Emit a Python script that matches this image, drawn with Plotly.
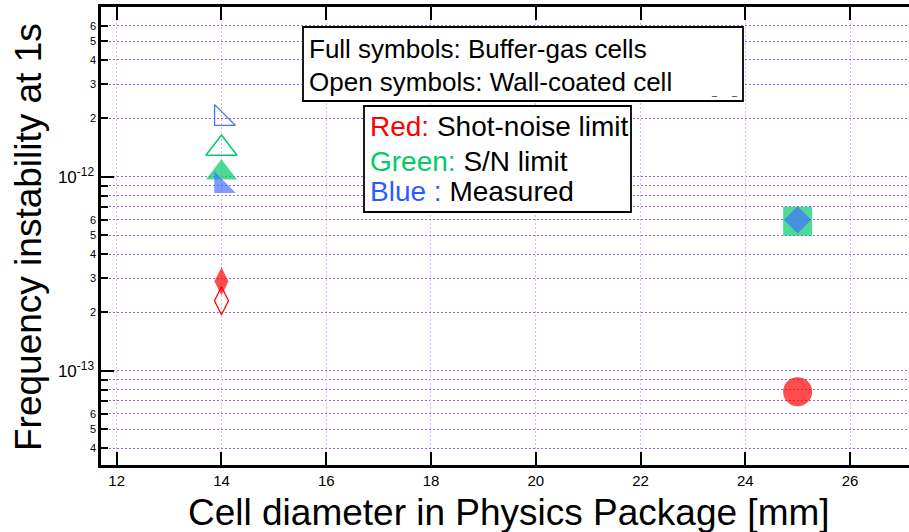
import plotly.graph_objects as go

# ---------------- data ----------------
cell_diameter_mm = [14, 25]
wall_cell_diameter_mm = [14]

shot_noise_buffer = [2.9e-13, 7.8e-14]   # red, full symbols
shot_noise_wall = [2.3e-13]              # red, open symbol
sn_limit_buffer = [1.05e-12, 5.9e-13]    # green, full symbols
sn_limit_wall = [1.4e-12]                # green, open symbol
measured_buffer = [9.0e-13, 6.0e-13]     # blue, full symbols
measured_wall = [2.0e-12]                # blue, open symbol

x_ticks = [12, 14, 16, 18, 20, 22, 24, 26]
y_ticks = [4e-14, 5e-14, 6e-14, 2e-13, 3e-13, 4e-13, 5e-13, 6e-13,
           2e-12, 3e-12, 4e-12, 5e-12, 6e-12]
y_tick_text = ["4", "5", "6", "2", "3", "4", "5", "6", "2", "3", "4", "5", "6"]
y_minor_ticks = [7e-14, 8e-14, 9e-14, 1e-13, 7e-13, 8e-13, 9e-13, 1e-12]
y_major = [1e-13, 1e-12]
y_major_text = ["10<sup>-13</sup>", "10<sup>-12</sup>"]

RED = "#ff0000"
GREEN = "#00cc66"
BLUE = "#4472ff"

W, H = 909, 532
L, R, T, B = 101, 0, 7, 67
PW, PH = W - L - R, H - T - B
FONT = "Liberation Sans, Arial, sans-serif"
Y_RANGE = [-13.485, -11.125]


def px(x):
    return (x - L) / PW


def py(y):
    return (H - B - y) / PH


fig = go.Figure()

# open green triangle (wall-coated)
fig.add_trace(go.Scatter(x=wall_cell_diameter_mm, y=sn_limit_wall, mode="markers",
                         marker=dict(symbol="triangle-up-open", size=27, color=GREEN,
                                     line=dict(width=1.5, color=GREEN)),
                         showlegend=False))
# green full symbols
fig.add_trace(go.Scatter(x=cell_diameter_mm, y=sn_limit_buffer, mode="markers",
                         marker=dict(symbol=["triangle-up", "square"], size=[27, 29], color=GREEN,
                                     line=dict(width=0)),
                         showlegend=False))
# blue full symbols
fig.add_trace(go.Scatter(x=cell_diameter_mm, y=measured_buffer, mode="markers",
                         marker=dict(symbol=["triangle-sw", "diamond"], size=[24, 21], color=BLUE,
                                     line=dict(width=0)),
                         showlegend=False))
# blue open symbol
fig.add_trace(go.Scatter(x=wall_cell_diameter_mm, y=measured_wall, mode="markers",
                         marker=dict(symbol="triangle-sw-open", size=23, color=BLUE,
                                     line=dict(width=1.3, color=BLUE)),
                         showlegend=False))
# red open symbol (on the overlaid axis with identical range)
fig.add_trace(go.Scatter(x=wall_cell_diameter_mm, y=shot_noise_wall, mode="markers", yaxis="y2",
                         marker=dict(symbol="diamond-tall-open", size=20, color=RED,
                                     line=dict(width=1.3, color=RED)),
                         showlegend=False))
# red full symbols
fig.add_trace(go.Scatter(x=cell_diameter_mm, y=shot_noise_buffer, mode="markers", yaxis="y2",
                         marker=dict(symbol=["diamond-tall", "circle"], size=[20, 29], color=RED,
                                     line=dict(width=0)),
                         showlegend=False))

# ---------------- text boxes ----------------
fig.add_shape(type="rect", xref="paper", yref="paper",
              x0=px(303), x1=px(743), y0=py(101), y1=py(27),
              line=dict(color="black", width=1.8), fillcolor="white", layer="above")
fig.add_shape(type="rect", xref="paper", yref="paper",
              x0=px(364), x1=px(631), y0=py(212), y1=py(106),
              line=dict(color="black", width=1.8), fillcolor="white", layer="above")

annots = [
    dict(text="Full symbols: Buffer-gas cells", x=px(307), y=py(49), size=26),
    dict(text="Open symbols: Wall-coated cell", x=px(307), y=py(82), size=26),
    dict(text=f"<span style='color:{RED}'>Red:</span> Shot-noise limit", x=px(368), y=py(127), size=28),
    dict(text=f"<span style='color:{GREEN}'>Green:</span> S/N limit", x=px(368), y=py(161), size=28),
    dict(text=f"<span style='color:#2b5cff'>Blue :</span> Measured", x=px(368), y=py(191), size=28),
]
for a in annots:
    fig.add_annotation(text=a["text"], x=a["x"], y=a["y"], xref="paper", yref="paper",
                       xanchor="left", yanchor="middle", showarrow=False,
                       font=dict(size=a["size"], family=FONT, color="black"))
for ux in (714, 734):
    fig.add_annotation(text="_", x=px(ux), y=py(92), xref="paper", yref="paper",
                       xanchor="center", yanchor="middle", showarrow=False,
                       font=dict(size=9, family=FONT, color="black"))

# axis titles
fig.add_annotation(text="Frequency instability at 1s", x=px(29), y=py(237), xref="paper", yref="paper",
                   textangle=-90, showarrow=False, xanchor="center", yanchor="middle",
                   font=dict(size=37, family=FONT, color="black"))
fig.add_annotation(text="Cell diameter in Physics Package [mm]",
                   x=px(509), y=py(512),
                   xref="paper", yref="paper", showarrow=False, xanchor="center", yanchor="middle",
                   font=dict(size=37, family=FONT, color="black"))

fig.update_layout(
    width=W, height=H,
    margin=dict(l=L, r=R, t=T, b=B, pad=0),
    paper_bgcolor="white", plot_bgcolor="white",
    showlegend=False,
    font=dict(family=FONT, color="black"),
    xaxis=dict(range=[11.70, 27.126], tickmode="array", tickvals=x_ticks,
               ticks="inside", ticklen=13, tickwidth=2, tickcolor="black",
               showline=True, linewidth=2.5, linecolor="black", mirror="ticks",
               showgrid=True, gridcolor="#d2b8fb", gridwidth=1, griddash="2px,2px",
               zeroline=False,
               tickfont=dict(size=15, family=FONT)),
    yaxis=dict(type="log", range=Y_RANGE, tickmode="array",
               tickvals=y_ticks, ticktext=y_tick_text,
               ticks="inside", ticklen=7, tickwidth=2, tickcolor="black",
               showline=True, linewidth=2.5, linecolor="black", mirror=False,
               showgrid=True, gridcolor="#9b5ee8", gridwidth=1, griddash="2px,2px",
               zeroline=False, tickfont=dict(size=11, family=FONT),
               minor=dict(tickmode="array", tickvals=y_minor_ticks, ticks="inside", ticklen=7,
                          tickwidth=2, tickcolor="black", showgrid=True, gridcolor="#9b5ee8",
                          gridwidth=1, griddash="2px,2px")),
    yaxis2=dict(type="log", range=Y_RANGE, overlaying="y", anchor="x", side="left",
                tickmode="array", tickvals=y_major, ticktext=y_major_text,
                ticks="inside", ticklen=13, tickwidth=2,
                tickcolor="black", showticklabels=True, tickfont=dict(size=17, family=FONT),
                ticklabelstandoff=6,
                showgrid=False, showline=False, zeroline=False),
)

fig.write_html("out.html", config={"displayModeBar": False},
               post_script="document.body.style.margin='0px';document.body.style.padding='0px';")
